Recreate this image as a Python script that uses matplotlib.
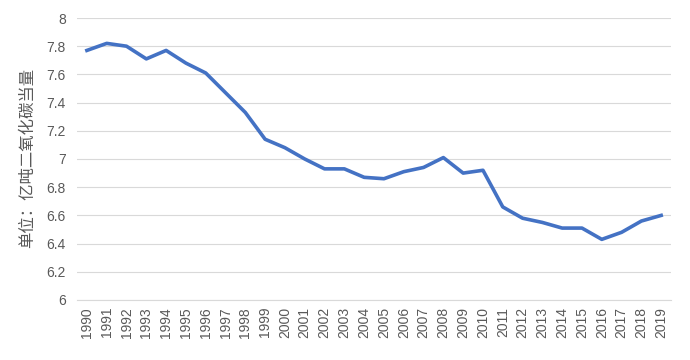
import matplotlib
matplotlib.use("Agg")
import matplotlib.pyplot as plt

years = [str(y) for y in range(1990, 2020)]
emissions = [7.77, 7.82, 7.80, 7.71, 7.77, 7.68, 7.61, 7.47, 7.33, 7.14,
             7.08, 7.00, 6.93, 6.93, 6.87, 6.86, 6.91, 6.94, 7.01, 6.90,
             6.92, 6.66, 6.58, 6.55, 6.51, 6.51, 6.43, 6.48, 6.56, 6.60]
y_ticks = [6, 6.2, 6.4, 6.6, 6.8, 7, 7.2, 7.4, 7.6, 7.8, 8]
y_tick_labels = ["6", "6.2", "6.4", "6.6", "6.8", "7", "7.2", "7.4", "7.6", "7.8", "8"]
y_title = "单位：亿吨二氧化碳当量"

TEXT = "#595959"
GRID = "#D9D9D9"

plt.rcParams["font.family"] = ["Liberation Sans", "Noto Sans CJK SC", "DejaVu Sans"]

fig = plt.figure(figsize=(6.9, 3.6), dpi=100)
ax = fig.add_axes([0.1116, 0.1667, 0.861, 0.7833])

x = list(range(len(years)))
ax.plot(x, emissions, color="#4472C4", linewidth=2.6, solid_joinstyle="round")

ax.set_xlim(-0.5, len(years) - 0.5)
ax.set_ylim(6, 8)
ax.set_yticks(y_ticks)
ax.set_yticklabels(y_tick_labels)
ax.set_xticks(x)
ax.set_xticklabels(years, rotation=90)

ax.grid(axis="y", color=GRID, linewidth=0.8)
ax.set_axisbelow(True)
for side in ["top", "right", "left"]:
    ax.spines[side].set_visible(False)
ax.spines["bottom"].set_color(GRID)
ax.spines["bottom"].set_linewidth(0.8)

ax.tick_params(axis="both", length=0, colors=TEXT, labelsize=10)
ax.tick_params(axis="y", pad=8)
ax.tick_params(axis="x", pad=5)

ax.set_ylabel(y_title, color=TEXT, fontsize=11.8,
              family=["Noto Sans CJK SC", "DejaVu Sans"])
ax.yaxis.set_label_coords(-0.069, 0.504)

fig.savefig("out.png", dpi=100)
